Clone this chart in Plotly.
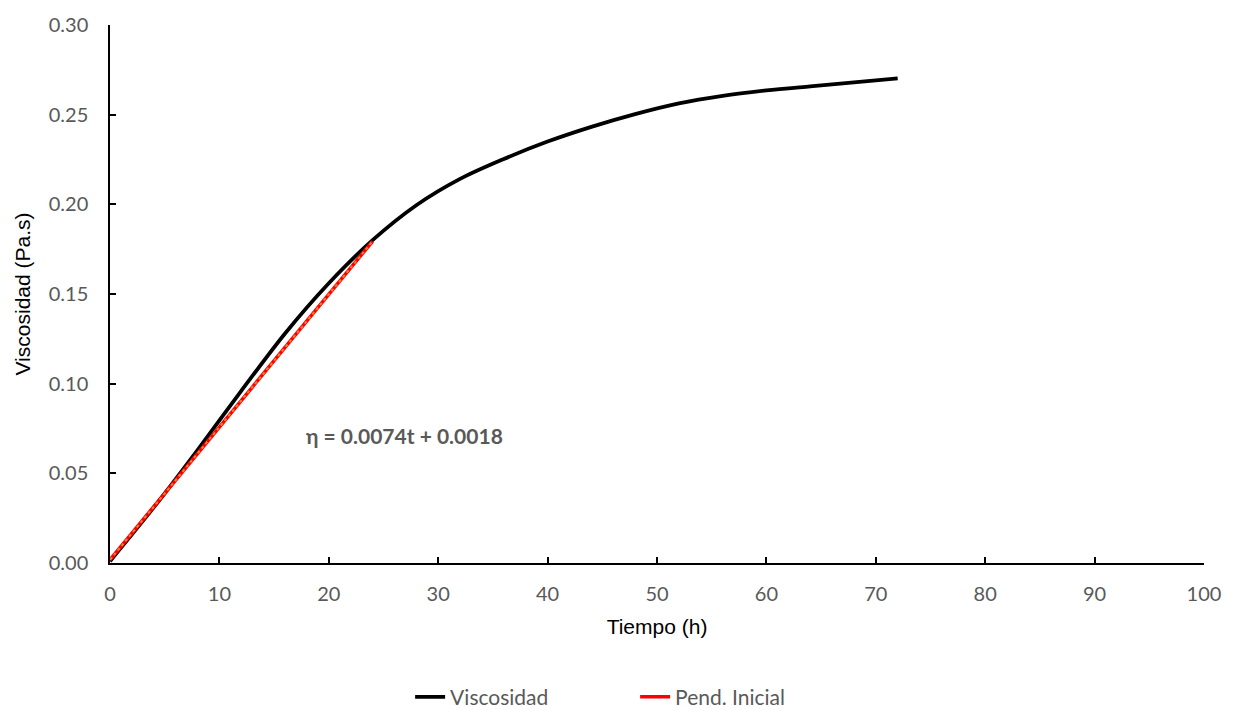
import plotly.graph_objects as go

# Viscosity measured over time
tiempo = [0, 4, 8, 12, 16, 20, 24, 28, 32, 36, 40, 44, 48, 52, 56, 60, 64, 68, 72]
viscosidad = [0.001, 0.031, 0.063, 0.096, 0.128, 0.156, 0.180, 0.1995, 0.2142, 0.2253,
              0.2350, 0.2432, 0.2503, 0.2563, 0.2605, 0.2635, 0.2658, 0.2680, 0.2702]

# Initial slope fit: eta = m*t + b over the first 24 h
pendiente = 0.0074
intercepto = 0.0018
t_inicial = [0, 24]
pend_inicial = [pendiente * t + intercepto for t in t_inicial]

x_ticks = list(range(0, 101, 10))
y_ticks = [0.00, 0.05, 0.10, 0.15, 0.20, 0.25, 0.30]

tick_font = dict(family="Lato, Carlito, sans-serif", size=20, color="#595959")
title_font = dict(family="Liberation Sans, Arial, sans-serif", size=21, color="#000000")

fig = go.Figure()

fig.add_trace(go.Scatter(
    x=tiempo, y=viscosidad, mode="lines", name="Viscosidad",
    line=dict(color="#000000", width=3.75, shape="spline", smoothing=0.9),
))
fig.add_trace(go.Scatter(
    x=t_inicial, y=pend_inicial, mode="lines", name="Pend. Inicial",
    line=dict(color="#FF0000", width=3.5),
))
# linear trendline drawn over the initial-slope series
fig.add_trace(go.Scatter(
    x=t_inicial, y=pend_inicial, mode="lines", showlegend=False, hoverinfo="skip",
    line=dict(color="#ED7D31", width=2, dash="dot"),
))

fig.add_annotation(
    x=26.9, y=0.0712, xref="x", yref="y", showarrow=False,
    text=f"<b>η = {pendiente}t + {intercepto}</b>",
    font=dict(family="Lato, Carlito, sans-serif", size=21, color="#595959"),
)

fig.update_layout(
    width=1233, height=710,
    margin=dict(l=110, r=27, t=15, b=147),
    paper_bgcolor="white", plot_bgcolor="white",
    showlegend=True,
    legend=dict(
        orientation="h", x=0.48, xanchor="center",
        yref="container", y=0.018, yanchor="middle",
        font=dict(family="Lato, Carlito, sans-serif", size=21, color="#595959"),
        entrywidth=180, entrywidthmode="pixels",
        tracegroupgap=0,
    ),
)

fig.update_xaxes(
    range=[0, 100], tickvals=x_ticks, ticktext=[str(v) for v in x_ticks],
    showgrid=False, zeroline=False, showline=True, linecolor="#000000", linewidth=1.5,
    ticks="inside", ticklen=6, tickwidth=1.5, tickcolor="#000000",
    tickfont=tick_font, ticklabelstandoff=12,
    title=dict(text="Tiempo (h)", font=title_font, standoff=16),
)
fig.update_yaxes(
    range=[0, 0.30], tickvals=y_ticks, ticktext=[f"{v:.2f}" for v in y_ticks],
    showgrid=False, zeroline=False, showline=True, linecolor="#000000", linewidth=1.5,
    ticks="inside", ticklen=6, tickwidth=1.5, tickcolor="#000000",
    tickfont=tick_font, ticklabelstandoff=16,
    title=dict(text="Viscosidad (Pa.s)", font=title_font, standoff=12),
)

fig.write_html("out.html")
